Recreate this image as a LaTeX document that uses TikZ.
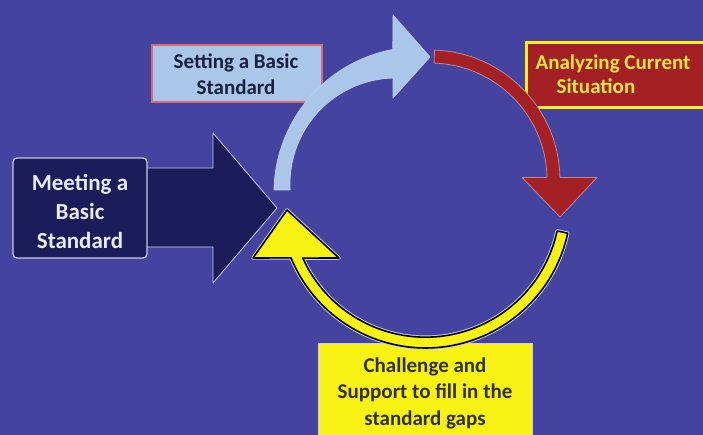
\documentclass[tikz,border=0pt]{standalone}
\usepackage{fontspec}
\setmainfont{Carlito}
\definecolor{bg}{RGB}{68,68,160}
\definecolor{navy}{RGB}{28,28,90}
\definecolor{lblue}{RGB}{170,198,232}
\definecolor{dred}{RGB}{165,32,36}
\definecolor{yel}{RGB}{248,242,20}
\definecolor{pinkred}{RGB}{222,104,112}
\definecolor{halo}{RGB}{200,205,235}
\definecolor{txtnavy}{RGB}{26,32,64}
\definecolor{txtyel}{RGB}{248,230,60}
\definecolor{txtdark}{RGB}{48,48,40}
\tikzset{
  boxtext/.style={font=\bfseries\fontsize{21}{26}\selectfont, align=center, inner sep=0pt},
  plainbox/.style={inner sep=0pt, outer sep=0pt},
  arrowshape/.style={line width=0.8pt, line join=round},
}
\begin{document}
\begin{tikzpicture}[x=1pt,y=1pt]
\useasboundingbox (0,0) rectangle (703,435);
\fill[bg] (0,0) rectangle (703,435);

% boxes under the arcs
\node[plainbox, draw=pinkred, line width=2pt, fill=lblue, minimum width=170, minimum height=57] (setbox) at (237,361.5) {};
\node[boxtext, text=txtnavy] (settext) at (236,361) {Setting a Basic\\Standard};

\node[plainbox, draw=yel, line width=3pt, fill=dred, minimum width=184, minimum height=65] (anabox) at (618,359.5) {};
\node[boxtext, text=txtyel, align=left, font=\bfseries\fontsize{21}{24}\selectfont] (anatext) at (613,361) {Analyzing Current\\\hspace*{21pt}Situation};

\node[plainbox, draw=halo, line width=1pt, fill=yel, minimum width=214, minimum height=101] (chbox) at (425,40.5) {};
\node[boxtext, text=txtdark, font=\bfseries\fontsize{21}{26.5}\selectfont] (chtext) at (425,42) {Challenge and\\Support to fill in the\\standard gaps};

% navy input arrow
\filldraw[arrowshape, fill=navy, draw=halo] (140,267) -- (213,267) -- (213,302) -- (277,227) -- (213,152) -- (213,188) -- (140,188) -- cycle;
\node[plainbox, draw=halo, line width=1.2pt, fill=navy, rounded corners=4pt, minimum width=134, minimum height=100] (meetbox) at (80,227) {};
\node[boxtext, text=white!92!blue, font=\bfseries\fontsize{23}{29}\selectfont] (meettext) at (80,223) {Meeting a\\Basic\\Standard};

% light blue arc arrow
\filldraw[arrowshape, fill=lblue, draw=halo!70!lblue]
  (274,245.1) arc[start angle=178.8, end angle=100.7, radius=146]
  -- (393,420) -- (430,378) -- (393,337) -- (393,357)
  arc[start angle=91.6, end angle=183.2, radius=106] -- cycle;

% red arc arrow
\filldraw[arrowshape, fill=dred, draw=halo!60!dred]
  (434.5,384.9) arc[start angle=88, end angle=1.1, radius=130]
  -- (597,257.5) -- (560,218) -- (522,257.5) -- (547,257.45)
  arc[start angle=1.2, end angle=88, radius=117] -- cycle;

% yellow arc arrow
\draw[line width=3.5pt, line join=round, halo]
  (567.7,201.8) arc[start angle=-12.2, end angle=-157.6, radius=145.5]
  -- (253,177) -- (287,225) -- (339,177) -- (302.8,176.9)
  arc[start angle=-155.6, end angle=-12.2, radius=134.7] -- cycle;
\filldraw[line width=1.6pt, line join=round, fill=yel, draw=black]
  (567.7,201.8) arc[start angle=-12.2, end angle=-157.6, radius=145.5]
  -- (253,177) -- (287,225) -- (339,177) -- (302.8,176.9)
  arc[start angle=-155.6, end angle=-12.2, radius=134.7] -- cycle;
\end{tikzpicture}
\end{document}
